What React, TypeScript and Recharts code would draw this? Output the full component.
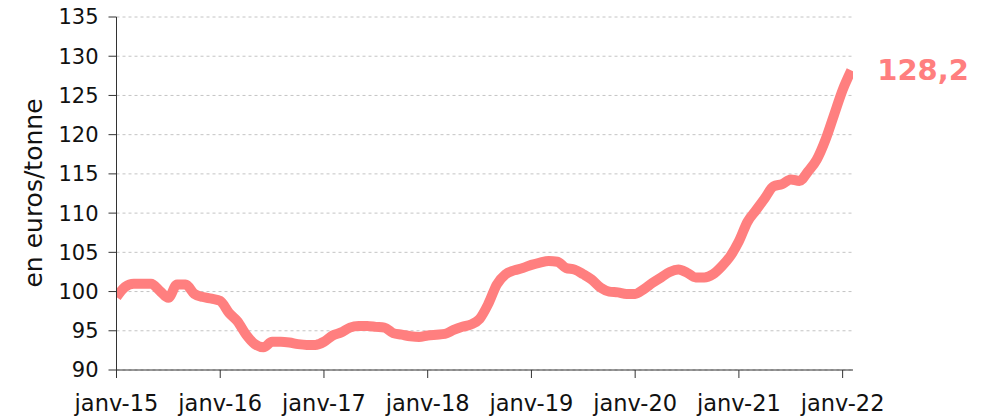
import { LineChart, Line, XAxis, YAxis, CartesianGrid, LabelList, Label } from 'recharts';

const FONT = '"DejaVu Sans", Verdana, sans-serif';
const COLOR = '#ff7f7f';

// monthly values, en euros/tonne
const YEARS = [15, 16, 17, 18, 19, 20, 21, 22];
const v2015 = [99.3, 100.6, 101.0, 101.0, 101.0, 100.1, 99.2, 100.9, 100.9, 99.7, 99.3, 99.1];
const v2016 = [98.8, 97.3, 96.2, 94.5, 93.3, 92.9, 93.6, 93.6, 93.5, 93.3, 93.2, 93.2];
const v2017 = [93.6, 94.4, 94.8, 95.4, 95.6, 95.6, 95.5, 95.4, 94.7, 94.5, 94.3, 94.2];
const v2018 = [94.4, 94.5, 94.6, 95.1, 95.5, 95.8, 96.5, 98.4, 100.9, 102.2, 102.7, 103.0];
const v2019 = [103.4, 103.7, 103.9, 103.8, 103.0, 102.8, 102.2, 101.5, 100.5, 100.0, 99.9, 99.7];
const v2020 = [99.7, 100.3, 101.1, 101.8, 102.5, 102.8, 102.4, 101.8, 101.8, 102.2, 103.2, 104.5];
const v2021 = [106.4, 108.9, 110.4, 111.9, 113.4, 113.7, 114.3, 114.1, 115.3, 116.8, 119.3, 122.5];
const v2022 = [125.7, 128.2];

const yTicks = [90, 95, 100, 105, 110, 115, 120, 125, 130, 135];
const xTicks = YEARS.map((_, k) => k * 12);

const values = [...v2015, ...v2016, ...v2017, ...v2018, ...v2019, ...v2020, ...v2021, ...v2022];
const data = values.map((v, i) => ({ i, value: v }));
const lastIndex = data.length - 1;

const EndLabel = (props: any) => {
  const { x, y, index, value } = props;
  if (index !== lastIndex) return null;
  return (
    <text x={x + 26} y={y} fill={COLOR} fontFamily={FONT} fontWeight="bold" fontSize={29} dominantBaseline="central">
      {String(value).replace('.', ',')}
    </text>
  );
};

const App = () => {
  return (
    <div style={{ position: 'absolute', left: 0, top: 0, background: '#fff' }}>
      <LineChart width={982} height={417} data={data} margin={{ top: 17, right: 129, left: 36.5, bottom: 7 }}>
        <CartesianGrid vertical={false} strokeDasharray="3 3" stroke="#c4c4c4" />
        <XAxis
          dataKey="i"
          type="number"
          domain={[0, 85.2]}
          ticks={xTicks}
          allowDataOverflow
          tickFormatter={(i: number) => `janv-${15 + i / 12}`}
          height={40}
          tickSize={8}
          tickMargin={17}
          stroke="#333"
          tick={{ fill: '#111', fontSize: 22.5, fontFamily: FONT }}
        />
        <YAxis
          domain={[90, 135]}
          ticks={yTicks}
          width={80}
          tickSize={8}
          tickMargin={10}
          stroke="#333"
          tick={{ fill: '#111', fontSize: 21, fontFamily: FONT }}
        >
          <Label
            content={() => (
              <text
                x={33}
                y={193}
                transform="rotate(-90, 33, 193)"
                textAnchor="middle"
                dominantBaseline="central"
                fontFamily={FONT}
                fontSize={25}
                fill="#111"
              >
                en euros/tonne
              </text>
            )}
          />
        </YAxis>
        <Line
          type="monotone"
          dataKey="value"
          stroke={COLOR}
          strokeWidth={10}
          dot={false}
          isAnimationActive={false}
        >
          <LabelList dataKey="value" content={EndLabel} />
        </Line>
      </LineChart>
    </div>
  );
};

export default App;
